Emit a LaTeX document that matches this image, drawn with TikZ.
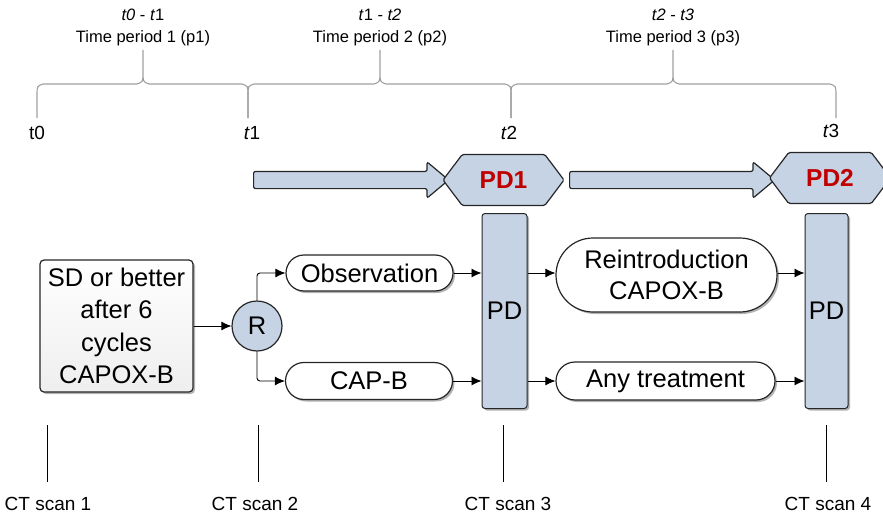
\documentclass[tikz,border=0pt]{standalone}
\usepackage{fontspec}
\setmainfont{Liberation Sans}
\usetikzlibrary{positioning, shapes.misc, shapes.symbols, shapes.arrows, shadows, arrows.meta}
\definecolor{pdblue}{RGB}{197,211,228}
\definecolor{pdred}{RGB}{192,0,0}
\definecolor{edge}{RGB}{38,38,38}
\tikzstyle{big}=[font=\fontsize{25.5}{31}\selectfont]
\tikzstyle{shd}=[drop shadow={shadow xshift=2pt,shadow yshift=-2pt,fill=black!50,opacity=.6}]
\tikzstyle{pill}=[rounded rectangle,draw=edge,line width=1.2pt,fill=white,shd,big,inner sep=0pt,align=center]
\tikzstyle{bar}=[rectangle,rounded corners=3pt,draw=edge,line width=1pt,fill=pdblue,shd,big,inner sep=0pt,minimum height=195pt]
\tikzstyle{sdbox}=[rectangle,rounded corners=4pt,draw=edge,line width=1.2pt,top color=white,bottom color=gray!13,shd,big,align=center,inner sep=0pt,minimum width=153pt,minimum height=132pt,font=\fontsize{25.5}{32.5}\selectfont]
\tikzstyle{rnd}=[circle,draw=edge,line width=1.2pt,fill=pdblue,big,inner sep=0pt,minimum size=50pt]
\tikzstyle{hexa}=[signal,signal to=west and east,signal pointer angle=106,draw=edge,line width=1.2pt,fill=pdblue,rounded corners=1.5pt,text=pdred,font=\bfseries\fontsize{24.5}{30}\selectfont,inner sep=0pt,minimum height=51pt,minimum width=121pt]
\tikzstyle{fat}=[single arrow,draw=edge,line width=1.2pt,fill=pdblue,rounded corners=2pt,single arrow head extend=9.5pt,single arrow tip angle=80,inner xsep=0pt,inner ysep=8pt,text height=0pt,text depth=0pt]
\tikzstyle{lnk}=[-{Latex[length=10pt,width=9pt]},line width=.9pt,black]
\tikzstyle{brc}=[gray!75,line width=1.1pt]
\tikzstyle{per}=[font=\fontsize{16.5}{22}\selectfont,align=center]
\tikzstyle{tk}=[font=\fontsize{19}{22}\selectfont]
\tikzstyle{ct}=[font=\fontsize{19}{22}\selectfont]
\newcommand\tbrace[3]{\draw[brc] (#1,118) -- (#1,96) .. controls (#1,86) .. (#1+6,84) -- (#2-6,84) .. controls (#2,82) .. (#2,70) -- (#2,50) (#2,70) .. controls (#2,82) .. (#2+6,84) -- (#3-6,84) .. controls (#3,86) .. (#3,96) -- (#3,118);}

\begin{document}
\begin{tikzpicture}[x=1pt,y=-1pt]
\useasboundingbox (0,0) rectangle (883,519);
% time periods
\tbrace{37}{143}{248}
\tbrace{248}{380}{511}
\tbrace{511}{673}{836}
\node[per] (p1) at (143,27) {\textit{t0} - \textit{t}1\\Time period 1 (p1)};
\node[per] (p2) at (380,27) {\textit{t}1 - \textit{t2}\\Time period 2 (p2)};
\node[per] (p3) at (673,27) {\textit{t2} - \textit{t3}\\Time period 3 (p3)};
\node[tk] (t0) at (37,133) {t0};
\node[tk] (t1) at (252,133) {\textit{t}1};
\node[tk] (t2) at (509,133) {\textit{t}2};
\node[tk] (t3) at (831,131) {\textit{t}3};
% progression
\node[fat,minimum height=195pt] (a1) at (346,180) {};
\node[fat,minimum height=205pt] (a2) at (667,180) {};
\node[hexa] (hx1) at (503.5,180) {PD1};
\node[hexa] (hx2) at (830,178) {PD2};
% treatment arms
\node[sdbox] (sd) at (116.5,326) {SD or better\\after 6\\cycles\\CAPOX-B};
\node[rnd] (r) at (257,326) {R};
\node[pill,minimum width=167pt,minimum height=36pt] (obs) at (369.5,273) {Observation};
\node[pill,minimum width=167pt,minimum height=37pt] (capb) at (369,381) {CAP-B};
\node[bar,minimum width=45pt] (pd1) at (504.5,311) {PD};
\node[pill,minimum width=221pt,minimum height=74pt] (reint) at (666.5,275) {Reintroduction\\CAPOX-B};
\node[pill,minimum width=219pt,minimum height=38pt] (any) at (665.5,381) {Any treatment};
\node[bar,minimum width=43pt] (pd2) at (826.5,311) {PD};
\draw[lnk] (sd) -- (r);
\draw[lnk,rounded corners=3pt] (r.north) |- (obs.west);
\draw[lnk,rounded corners=3pt] (r.south) |- (capb.west);
\draw[lnk] (obs.east) -- (obs.east -| pd1.west);
\draw[lnk] (capb.east) -- (capb.east -| pd1.west);
\draw[lnk] (pd1.east |- obs) -- (reint.west |- obs);
\draw[lnk] (pd1.east |- any) -- (any.west);
\draw[lnk] (reint.east |- obs) -- (pd2.west |- obs);
\draw[lnk] (any.east) -- (any.east -| pd2.west);
% CT scans
\foreach \x/\l/\n in {47/48/1, 258/255/2, 503/508/3, 826/828/4}
  {\node[ct] (ct\n) at (\l,504) {CT scan \n};
   \coordinate (tic\n) at (\x,425);
   \draw[line width=1pt] (tic\n) -- ++(0,57);}
\end{tikzpicture}
\end{document}
